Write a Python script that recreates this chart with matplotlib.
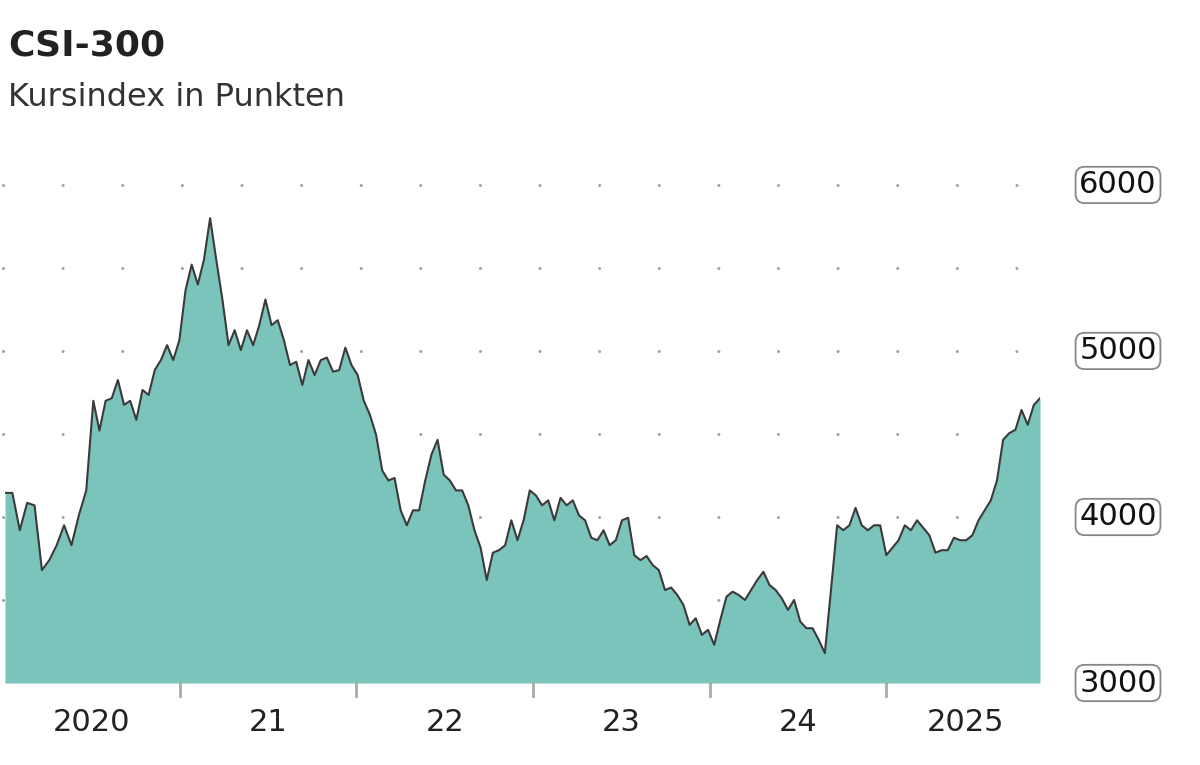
import numpy as np
import matplotlib.pyplot as plt

# CSI-300 index level, roughly every two weeks, Jan 2020 .. Nov 2025
values = [
    4145, 4145, 3920, 4085, 4070, 3680, 3740, 3830, 3950, 3830, 4010, 4160,
    4700, 4520, 4700, 4715, 4825, 4675, 4700, 4585, 4765, 4735, 4885, 4945,
    5035, 4945, 5065, 5365, 5520, 5400, 5550, 5800, 5550, 5310, 5035, 5125,
    5005, 5125, 5035, 5155, 5310, 5155, 5185, 5065, 4915, 4935, 4795, 4945,
    4855, 4945, 4960, 4875, 4885, 5020, 4915, 4855, 4700, 4615, 4495, 4280,
    4220, 4235, 4040, 3950, 4040, 4040, 4220, 4375, 4465, 4255, 4220, 4160,
    4160, 4070, 3920, 3815, 3620, 3785, 3800, 3830, 3980, 3860, 3980, 4160,
    4130, 4070, 4100, 3980, 4115, 4070, 4100, 4010, 3980, 3875, 3860, 3920,
    3830, 3860, 3980, 3995, 3770, 3740, 3765, 3710, 3680, 3560, 3575, 3530,
    3470, 3350, 3390, 3290, 3320, 3230, 3380, 3520, 3550, 3530, 3500, 3560,
    3620, 3670, 3590, 3560, 3510, 3440, 3500, 3370, 3330, 3330, 3260, 3180,
    3560, 3950, 3920, 3950, 4055, 3950, 3920, 3950, 3950, 3770, 3815, 3860,
    3950, 3920, 3980, 3935, 3890, 3785, 3800, 3800, 3875, 3860, 3860, 3890,
    3980, 4040, 4100, 4220, 4465, 4505, 4525, 4645, 4555, 4675, 4715,
]
year_ticks = [2021, 2022, 2023, 2024, 2025]
year_labels = ["2020", "21", "22", "23", "24", "2025"]
y_labels = [3000, 4000, 5000, 6000]
grid_levels = [3500, 4000, 4500, 5000, 5500, 6000]

# first 12 observations cover Jan-Jun 2020, the rest follow evenly
x = np.concatenate([np.linspace(2020.01, 2020.47, 12),
                    np.linspace(2020.51, 2025.87, len(values) - 12)])

fig = plt.figure(figsize=(12, 7.65), dpi=100)
ax = fig.add_axes([5 / 1200, 1 - 683 / 765, 1035 / 1200, (683 - 170) / 765])
ax.set_xlim(x[0], x[-1])
ax.set_ylim(3000, 6090)
ax.axis("off")

for g in grid_levels:
    ax.plot([2020.0, 2025.95], [g, g], color="#a0a0a0", lw=2.2,
            linestyle=(0, (0.01, 19.5)), dash_capstyle="round", clip_on=False, zorder=1)

ax.fill_between(x, values, 3000, color="#7bc4bb", lw=0, zorder=2)
ax.plot(x, values, color="#3a3a3a", lw=1.5, zorder=3)

# x ticks and labels
for t in year_ticks:
    ax.plot([t, t], [3000, 2920], color="#aaaaaa", lw=2, clip_on=False)
centers = [2020.5, 2021.5, 2022.5, 2023.5, 2024.5, 2025.45]
for c, lab in zip(centers, year_labels):
    ax.text(c, 2760, lab, ha="center", va="center", fontsize=22, color="#222222")

# right value labels in boxes
for v in y_labels:
    fig.text(1118 / 1200, ax.transData.transform((0, v))[1] / 765, str(v),
             ha="center", va="center", fontsize=22, color="#111111",
             bbox=dict(boxstyle="round,pad=0.12,rounding_size=0.3",
                       fc="white", ec="#888888", lw=1.3))

fig.text(8 / 1200, 1 - 45 / 765, "CSI-300", fontsize=26, fontweight="bold",
         color="#222222", va="center")
fig.text(8 / 1200, 1 - 98 / 765, "Kursindex in Punkten", fontsize=23,
         color="#333333", va="center")

fig.savefig("out.png", dpi=100)
